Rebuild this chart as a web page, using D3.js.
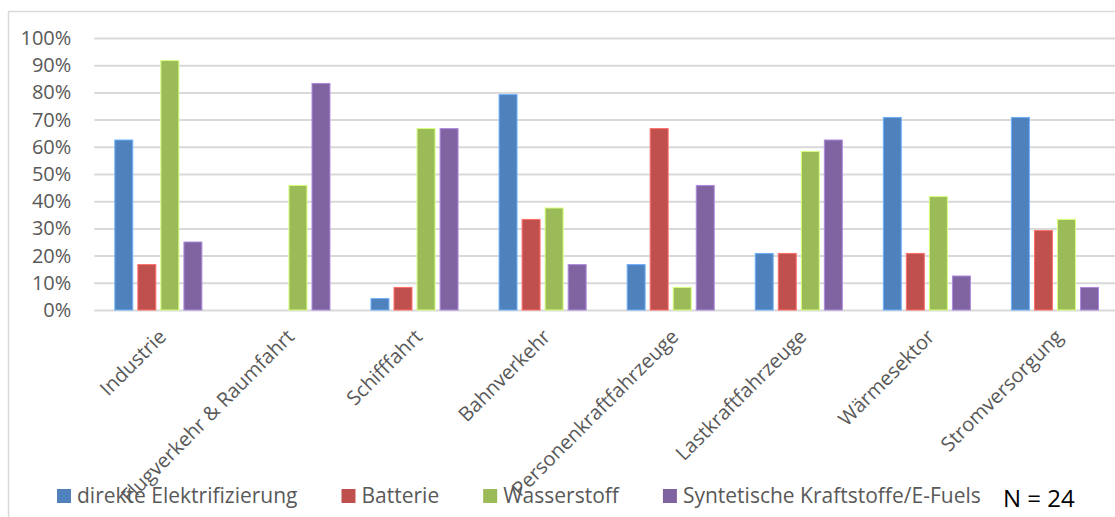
<!DOCTYPE html>
<html>
<head>
<meta charset="utf-8">
<script src="https://cdn.jsdelivr.net/npm/d3@7"></script>
<style>
  html, body { margin: 0; padding: 0; background: #fff; }
  svg { display: block; font-family: "Open Sans", sans-serif; }
</style>
</head>
<body>
<div class="graphic"></div>
<script>
// categories (x axis)
var categories = ["Industrie", "Flugverkehr & Raumfahrt", "Schifffahrt", "Bahnverkehr",
    "Personenkraftfahrzeuge", "Lastkraftfahrzeuge", "Wärmesektor", "Stromversorgung"];

// share of respondents per option (N = 24)
var direkt = [0.625, 0, 0.042, 0.792, 0.167, 0.208, 0.708, 0.708];
var batterie = [0.167, 0, 0.083, 0.333, 0.667, 0.208, 0.208, 0.292];
var wasserstoff = [0.917, 0.458, 0.667, 0.375, 0.083, 0.583, 0.417, 0.333];
var efuels = [0.25, 0.833, 0.667, 0.167, 0.458, 0.625, 0.125, 0.083];

var seriesNames = ["direkte Elektrifizierung", "Batterie", "Wasserstoff", "Syntetische Kraftstoffe/E-Fuels"];
var seriesColors = ["#4f81bd", "#c0504d", "#9bbb59", "#8064a2"];
var yTicks = [0, 0.1, 0.2, 0.3, 0.4, 0.5, 0.6, 0.7, 0.8, 0.9, 1];
var nLabel = "N = 24";

var render = function () {
    var width = 1115, height = 517;
    var margin = { top: 38, left: 94.3, bottom: 310 };
    var plotRight = 1119;

    var svg = d3.select(".graphic")
        .append("svg")
        .attr("width", width)
        .attr("height", height);

    // chart area border (cut at right/bottom like the screenshot)
    svg.append("rect")
        .attr("x", 8.5).attr("y", 11.5)
        .attr("width", width + 10).attr("height", height + 10)
        .attr("fill", "#fff")
        .attr("stroke", "#d9d9d9")
        .attr("stroke-width", 1.5);

    var allSeries = [direkt, batterie, wasserstoff, efuels];
    var data = categories.map(function (c, i) {
        return { cat: c, values: allSeries.map(function (s, j) { return { key: seriesNames[j], value: s[i], color: seriesColors[j] }; }) };
    });

    var y = d3.scaleLinear().domain([0, 1]).range([margin.bottom, margin.top]);
    var x0 = d3.scaleBand().domain(categories).range([margin.left, plotRight]);
    var x1 = d3.scaleBand().domain(seriesNames).range([0, x0.bandwidth()])
        .paddingInner(0.22).paddingOuter(0.89);

    // y axis + gridlines
    var yAxis = svg.append("g")
        .attr("transform", "translate(" + margin.left + ",0)")
        .call(d3.axisLeft(y).tickValues(yTicks).tickFormat(d3.format(".0%"))
            .tickSize(-(width - margin.left)).tickPadding(23));
    yAxis.select(".domain").remove();
    yAxis.selectAll("line").attr("stroke", "#d9d9d9").attr("stroke-width", 2);
    yAxis.selectAll("text")
        .attr("fill", "#595959")
        .style("font-size", "20px")
        .style("font-family", "'Open Sans', sans-serif");

    // bars
    svg.append("g")
        .selectAll("g")
        .data(data)
        .join("g")
        .attr("transform", function (d) { return "translate(" + x0(d.cat) + ",0)"; })
        .selectAll("rect")
        .data(function (d) { return d.values.filter(function (v) { return v.value > 0; }); })
        .join("rect")
        .attr("x", function (d) { return x1(d.key); })
        .attr("y", function (d) { return y(d.value); })
        .attr("width", x1.bandwidth())
        .attr("height", function (d) { return y(0) - y(d.value); })
        .attr("fill", function (d) { return d.color; })
        .attr("stroke", function (d) { return d3.color(d.color).brighter(0.9); })
        .attr("stroke-width", 1);

    // category labels, rotated
    var xAxis = svg.append("g")
        .attr("transform", "translate(0," + margin.bottom + ")")
        .call(d3.axisBottom(x0).tickSize(0).tickPadding(0));
    xAxis.select(".domain").remove();
    xAxis.selectAll("text")
        .attr("fill", "#595959")
        .style("font-size", "20px")
        .style("font-family", "'Open Sans', sans-serif")
        .attr("text-anchor", "end")
        .attr("y", 0).attr("dy", 0)
        .attr("transform", "translate(9,28) rotate(-45)");

    // legend
    var legend = svg.append("g").attr("class", "legend");
    var lx = 57;
    seriesNames.forEach(function (name, i) {
        legend.append("rect")
            .attr("x", lx).attr("y", 489)
            .attr("width", 14).attr("height", 14)
            .attr("fill", seriesColors[i]);
        var t = legend.append("text")
            .attr("x", lx + 20).attr("y", 503)
            .attr("fill", "#595959")
            .style("font-size", "21px")
            .text(name);
        lx = lx + 20 + t.node().getComputedTextLength() + 44;
    });

    svg.append("text")
        .attr("x", 1003).attr("y", 507)
        .attr("fill", "#000")
        .style("font-size", "24px")
        .text(nLabel);
};

render();
</script>
</body>
</html>
